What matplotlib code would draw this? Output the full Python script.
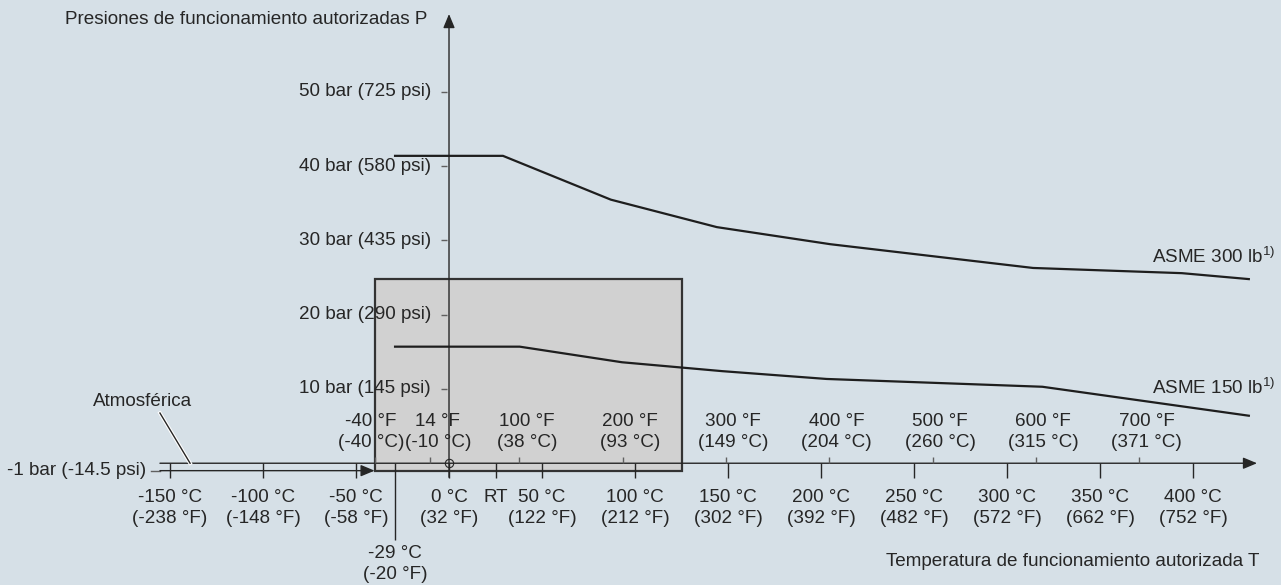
import numpy as np
import matplotlib.pyplot as plt
import matplotlib.patheffects as pe
from matplotlib.patches import Rectangle

plt.rcParams['font.family'] = ['Liberation Sans', 'DejaVu Sans']
plt.rcParams['mathtext.default'] = 'regular'

# temperature scale (deg C) with the deg F equivalents
c_ticks = [-150, -100, -50, 0, 50, 100, 150, 200, 250, 300, 350, 400]
c_as_f = [-238, -148, -58, 32, 122, 212, 302, 392, 482, 572, 662, 752]
f_ticks = [-40, 14, 100, 200, 300, 400, 500, 600, 700]
f_as_c = [-40, -10, 38, 93, 149, 204, 260, 315, 371]
rt_c = 25
min_c, min_f = -29, -20

# pressure scale
p_ticks = [10, 20, 30, 40, 50]
p_psi = [145, 290, 435, 580, 725]
p_vac, p_vac_psi = -1, -14.5

# ASME pressure/temperature curves
t_300 = [-29, 29, 87, 144, 205, 314, 394, 430]
p_300 = [41.4, 41.4, 35.5, 31.8, 29.5, 26.3, 25.6, 24.8]
t_150 = [-29, 38, 93, 147, 203, 319, 430]
p_150 = [15.7, 15.7, 13.6, 12.4, 11.35, 10.3, 6.4]

# grey range
box_t = [-40, 125]
box_p = [-1, 24.8]

bg = '#d6e0e7'
ink = '#262626'
tick_c = '#606060'
fs = 13.6

fig = plt.figure(figsize=(12.81, 5.85), dpi=100)
fig.patch.set_facecolor(bg)
ax = fig.add_axes([0, 0, 1, 1])
ax.set_facecolor(bg)
ax.set_xlim(-241.4, 447.3)
ax.set_ylim(-16.40, 62.39)
ax.axis('off')

# pixel -> data helpers (for lengths and offsets only)
sx = (447.3 + 241.4) / 1281
sy = (62.39 + 16.40) / 585
dx = lambda px: px * sx
dy = lambda px: px * sy

arrow = dict(arrowstyle='-|>,head_length=0.6,head_width=0.25', color=ink,
             lw=1.0, mutation_scale=14, shrinkA=0, shrinkB=0)

ax.add_patch(Rectangle((box_t[0], box_p[0]), box_t[1] - box_t[0],
                       box_p[1] - box_p[0], fc='#d1d1d1', ec='#333333',
                       lw=1.6, zorder=1))

# axes
x_start = -155.4
ax.annotate('', xy=(0, 60.5), xytext=(0, -dy(14)), arrowprops=arrow, zorder=3)
ax.annotate('', xy=(434.4, 0), xytext=(x_start, 0), arrowprops=arrow, zorder=3)
ax.annotate('', xy=(box_t[0], p_vac), xytext=(x_start, p_vac),
            arrowprops=arrow, zorder=3)
ax.plot([x_start - dx(9), x_start], [p_vac, p_vac], color=tick_c, lw=1.0)
ax.text(x_start - dx(14), p_vac, f'{p_vac:g} bar ({p_vac_psi:g} psi)',
        ha='right', va='center', fontsize=fs, color=ink)
ax.plot([0], [0], 'o', mfc='none', mec=ink, ms=6, mew=0.8, zorder=4)

# pressure ticks
ax.hlines(p_ticks, -dx(8), -dx(2), color=tick_c, lw=1.0, zorder=3)
for p, psi in zip(p_ticks, p_psi):
    ax.text(-dx(18), p, f'{p} bar ({psi} psi)', ha='right', va='center',
            fontsize=fs, color=ink, zorder=5)

# deg C ticks below the axis
ax.vlines(c_ticks + [rt_c], 0, -dy(15), color=ink, lw=1.0, zorder=3)
for c, f in zip(c_ticks, c_as_f):
    ax.text(c, -dy(34), f'{c} °C', ha='center', va='center', fontsize=fs, color=ink)
    ax.text(c, -dy(55), f'({f} °F)', ha='center', va='center', fontsize=fs, color=ink)
ax.text(rt_c, -dy(34), 'RT', ha='center', va='center', fontsize=fs, color=ink)

# deg F ticks above the axis
f_pos = [(f - 32) * 5 / 9 for f in f_ticks]
ax.vlines(f_pos, 0, dy(6), color=tick_c, lw=1.0, zorder=3)
nudge = [-2] + [4] * (len(f_ticks) - 1)
for t, f, c, n in zip(f_pos, f_ticks, f_as_c, nudge):
    ax.text(t + n, dy(42), f'{f} °F', ha='center', va='center', fontsize=fs,
            color=ink, zorder=5)
    ax.text(t + n, dy(21), f'({c} °C)', ha='center', va='center', fontsize=fs,
            color=ink, zorder=5)

# minimum temperature marker
ax.vlines([min_c], 0, -dy(77), color=ink, lw=1.0, zorder=3)
ax.text(min_c, -dy(90), f'{min_c} °C', ha='center', va='center', fontsize=fs, color=ink)
ax.text(min_c, -dy(111), f'({min_f} °F)', ha='center', va='center', fontsize=fs, color=ink)

# atmospheric leader
ax.plot([x_start, -139.2], [6.76, 0], color=ink, lw=1.0, zorder=3,
        path_effects=[pe.withStroke(linewidth=2.6, foreground='white')])
ax.text(-165, 8.35, 'Atmosférica', ha='center', va='center', fontsize=fs, color=ink)

# curves
ax.plot(t_300, p_300, color='#1e1e1e', lw=1.6, zorder=3)
ax.plot(t_150, p_150, color='#1e1e1e', lw=1.6, zorder=3)
ax.text(444.1, 27.75, 'ASME 300 lb$^{1)}$', ha='right', va='center', fontsize=fs, color=ink)
ax.text(444.1, 10.14, 'ASME 150 lb$^{1)}$', ha='right', va='center', fontsize=fs, color=ink)

# axis titles
ax.text(-11.8, 59.83, 'Presiones de funcionamiento autorizadas P', ha='right',
        va='center', fontsize=fs, color=ink)
ax.text(435.5, -13.3, 'Temperatura de funcionamiento autorizada T', ha='right',
        va='center', fontsize=fs, color=ink)

fig.savefig('out.png', dpi=100, facecolor=bg)
